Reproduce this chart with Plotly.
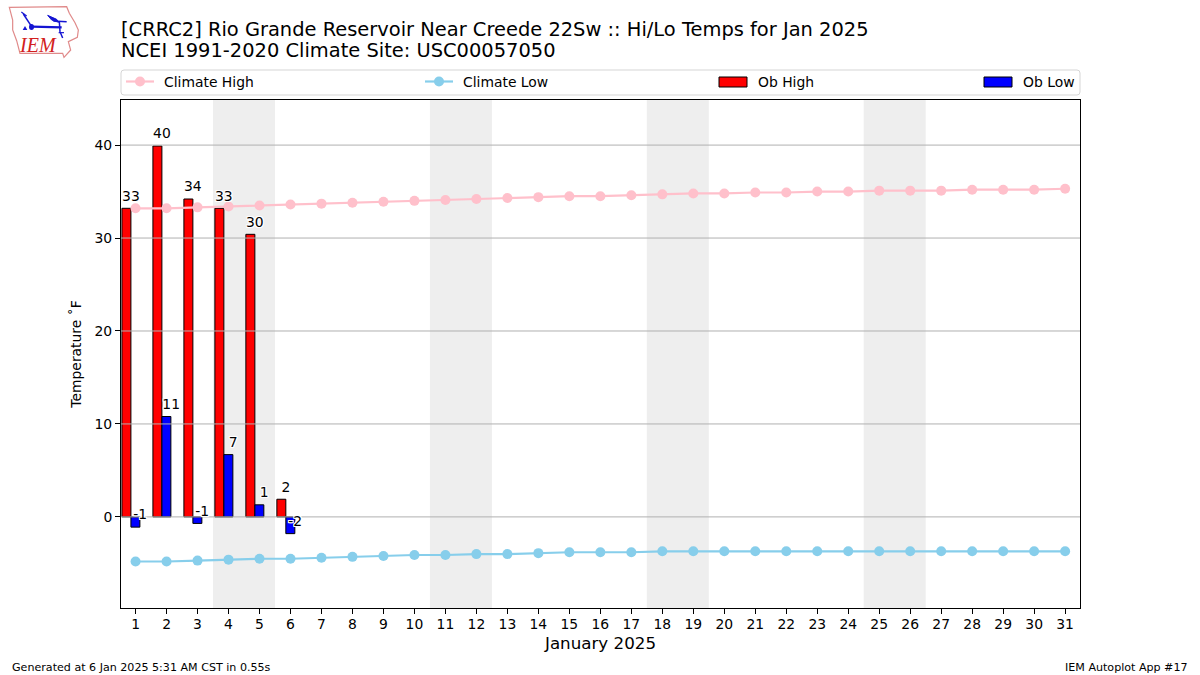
import plotly.graph_objects as go

days = list(range(1, 32))
ob_days = [1, 2, 3, 4, 5, 6]
ob_high = [33.2, 39.9, 34.2, 33.2, 30.4, 1.9]
ob_low = [-1.1, 10.8, -0.7, 6.7, 1.3, -1.8]
ob_high_labels = ["33", "40", "34", "33", "30", "2"]
ob_low_labels = ["-1", "11", "-1", "7", "1", "-2"]
climate_high = [33.2, 33.2, 33.3, 33.4, 33.5, 33.6, 33.7, 33.8, 33.9, 34.0, 34.1, 34.2, 34.3, 34.4, 34.5, 34.5,
                34.6, 34.7, 34.8, 34.8, 34.9, 34.9, 35.0, 35.0, 35.1, 35.1, 35.1, 35.2, 35.2, 35.2, 35.3]
climate_low = [-4.8, -4.8, -4.7, -4.6, -4.5, -4.5, -4.4, -4.3, -4.2, -4.1, -4.1, -4.0, -4.0, -3.9, -3.8, -3.8,
               -3.8, -3.7, -3.7, -3.7, -3.7, -3.7, -3.7, -3.7, -3.7, -3.7, -3.7, -3.7, -3.7, -3.7, -3.7]
weekends = [(3.5, 5.5), (10.5, 12.5), (17.5, 19.5), (24.5, 26.5)]
y_ticks = [0, 10, 20, 30, 40]

FONT = "DejaVu Sans"
PINK, SKY, RED, BLUE = "#FFC0CB", "#87CEEB", "#FF0000", "#0000FF"
HALO = "1px 0 0 white, -1px 0 0 white, 0 1px 0 white, 0 -1px 0 white, 1px 1px 0 white, -1px -1px 0 white, 1px -1px 0 white, -1px 1px 0 white"
L, R, T, B = 121, 1080, 100, 608
X_RANGE = [0.53, 31.48]
Y_RANGE = [-9.8, 44.85]
LABEL_PAD = 0.45
LOGO_BLUE = "#1414D2"


def px(x):
    return (x - L) / (R - L)


def py(y):
    return (B - y) / (B - T)


def path(points, close=False):
    s = "M" + " L".join(f"{px(x / 3):.5f},{py(y / 3):.5f}" for x, y in points)
    return s + (" Z" if close else "")


fig = go.Figure()

for v in y_ticks:
    fig.add_trace(go.Scatter(x=X_RANGE, y=[v, v], mode="lines", line=dict(color="#b0b0b0", width=1),
                             showlegend=False, hoverinfo="skip"))

fig.add_trace(go.Scatter(x=days, y=climate_high, name="Climate High", mode="lines+markers", showlegend=False,
                         line=dict(color=PINK, width=2.2), marker=dict(color=PINK, size=10)))
fig.add_trace(go.Scatter(x=days, y=climate_low, name="Climate Low", mode="lines+markers", showlegend=False,
                         line=dict(color=SKY, width=2.2), marker=dict(color=SKY, size=10)))
fig.add_trace(go.Bar(x=ob_days, y=ob_high, name="Ob High", width=0.29, offset=-0.44, showlegend=False,
                     marker=dict(color=RED, line=dict(color="black", width=1))))
fig.add_trace(go.Bar(x=ob_days, y=ob_low, name="Ob Low", width=0.29, offset=-0.15, showlegend=False,
                     marker=dict(color=BLUE, line=dict(color="black", width=1))))

label_font = dict(family=FONT, size=13.9, color="black", shadow=HALO)
fig.add_trace(go.Scatter(x=[d - 0.15 for d in ob_days], y=[v + LABEL_PAD for v in ob_high], text=ob_high_labels,
                         mode="text", textposition="top center", textfont=label_font, showlegend=False,
                         hoverinfo="skip", cliponaxis=False))
fig.add_trace(go.Scatter(x=[d + 0.15 for d in ob_days], y=[v + LABEL_PAD for v in ob_low], text=ob_low_labels,
                         mode="text", textposition="top center", textfont=label_font, showlegend=False,
                         hoverinfo="skip", cliponaxis=False))

shapes = [dict(type="rect", xref="x", yref="paper", x0=a, x1=b, y0=0, y1=1, layer="below",
               fillcolor="#eeeeee", line=dict(width=0)) for a, b in weekends]

# IEM logo drawn from vector outlines (coordinates are 3x page pixels)
iowa = [(28, 22), (200, 20), (208, 40), (225, 68), (235, 90), (232, 112), (205, 125), (212, 150), (192, 172),
        (188, 160), (60, 160), (50, 122), (38, 90), (38, 60)]
shapes.append(dict(type="path", xref="paper", yref="paper", path=path(iowa, True),
                   line=dict(color="#E08A8A", width=1.2)))
for seg, w in (([(95, 80), (185, 82)], 2.2), ([(70, 42), (95, 80)], 1.5), ([(64, 36), (80, 48)], 1.2),
               ([(160, 63), (200, 65)], 1.5), ([(178, 65), (180, 95), (188, 114)], 1.5), ([(176, 98), (192, 98)], 1.2)):
    shapes.append(dict(type="path", xref="paper", yref="paper", path=path(seg),
                       line=dict(color=LOGO_BLUE, width=w)))
shapes.append(dict(type="path", xref="paper", yref="paper", path=path([(143, 46), (170, 58), (176, 67), (155, 60)], True),
                   fillcolor=LOGO_BLUE, line=dict(color=LOGO_BLUE, width=1)))
shapes.append(dict(type="circle", xref="paper", yref="paper", x0=px(29), x1=px(34), y0=py(30), y1=py(24),
                   fillcolor=LOGO_BLUE, line=dict(width=0)))
shapes.append(dict(type="path", xref="paper", yref="paper", path=path([(68, 90), (75, 78), (82, 90)], True),
                   fillcolor=LOGO_BLUE, line=dict(width=0)))

# Legend frame and keys, laid out as an expanded four-column strip
r = 3
shapes.append(dict(
    type="path", xref="paper", yref="paper", fillcolor="white", line=dict(color="#d5d5d5", width=1),
    path=(f"M{px(L + r)},{py(70)} L{px(R - r)},{py(70)} Q{px(R)},{py(70)} {px(R)},{py(70 + r)} "
          f"L{px(R)},{py(95 - r)} Q{px(R)},{py(95)} {px(R - r)},{py(95)} "
          f"L{px(L + r)},{py(95)} Q{px(L)},{py(95)} {px(L)},{py(95 - r)} "
          f"L{px(L)},{py(70 + r)} Q{px(L)},{py(70)} {px(L + r)},{py(70)} Z")))
for x0, colour in ((126, PINK), (425, SKY)):
    shapes.append(dict(type="line", xref="paper", yref="paper", x0=px(x0), x1=px(x0 + 28), y0=py(81.5), y1=py(81.5),
                       line=dict(color=colour, width=2.2)))
    shapes.append(dict(type="circle", xref="paper", yref="paper", x0=px(x0 + 9), x1=px(x0 + 19), y0=py(86.5), y1=py(76.5),
                       fillcolor=colour, line=dict(width=0)))
for x0, colour in ((719, RED), (984, BLUE)):
    shapes.append(dict(type="rect", xref="paper", yref="paper", x0=px(x0), x1=px(x0 + 28), y0=py(87), y1=py(77),
                       fillcolor=colour, line=dict(color="black", width=1)))

annotations = [
    dict(text="[CRRC2] Rio Grande Reservoir Near Creede 22Sw :: Hi/Lo Temps for Jan 2025",
         x=px(118.5), y=py(29), xref="paper", yref="paper", xanchor="left", yanchor="middle",
         showarrow=False, font=dict(family=FONT, size=19.45, color="black")),
    dict(text="NCEI 1991-2020 Climate Site: USC00057050",
         x=px(118.5), y=py(50.5), xref="paper", yref="paper", xanchor="left", yanchor="middle",
         showarrow=False, font=dict(family=FONT, size=19.45, color="black")),
    dict(text="Generated at 6 Jan 2025 5:31 AM CST in 0.55s", x=px(10), y=py(667), xref="paper", yref="paper",
         xanchor="left", yanchor="middle", showarrow=False, font=dict(family=FONT, size=11.1, color="black")),
    dict(text="IEM Autoplot App #17", x=px(1190), y=py(667), xref="paper", yref="paper",
         xanchor="right", yanchor="middle", showarrow=False, font=dict(family=FONT, size=11.1, color="black")),
    dict(text="<i>IEM</i>", x=px(37.5), y=py(45), xref="paper", yref="paper", xanchor="center", yanchor="middle",
         showarrow=False, font=dict(family="Liberation Serif", size=20, color="#D22020")),
]
for x0, name in ((162, "Climate High"), (461, "Climate Low"), (755.5, "Ob High"), (1021, "Ob Low")):
    annotations.append(dict(text=name, x=px(x0), y=py(81.5), xref="paper", yref="paper", xanchor="left",
                            yanchor="middle", showarrow=False, font=dict(family=FONT, size=13.9, color="black")))

fig.update_layout(
    width=1200, height=675, margin=dict(l=L, r=1200 - R, t=T, b=675 - B),
    paper_bgcolor="white", plot_bgcolor="white", barmode="overlay", showlegend=False,
    font=dict(family=FONT, size=13.9, color="black"),
    shapes=shapes, annotations=annotations,
    xaxis=dict(range=X_RANGE, tickmode="array", tickvals=days, ticktext=[str(d) for d in days],
               showgrid=False, zeroline=False, showline=True, linecolor="black", linewidth=1, mirror=True,
               ticks="outside", ticklen=5, tickcolor="black", ticklabelstandoff=-2,
               title=dict(text="January 2025", font=dict(size=16.7), standoff=6)),
    yaxis=dict(range=Y_RANGE, tickmode="array", tickvals=y_ticks, ticktext=[str(v) for v in y_ticks],
               showgrid=False, zeroline=False, showline=True, linecolor="black", linewidth=1, mirror=True,
               ticks="outside", ticklen=5, tickcolor="black",
               title=dict(text="Temperature ˚F", font=dict(size=13.9), standoff=9)),
)

fig.write_html("out.html", config=dict(displayModeBar=False), post_script="document.body.style.margin='0';")
